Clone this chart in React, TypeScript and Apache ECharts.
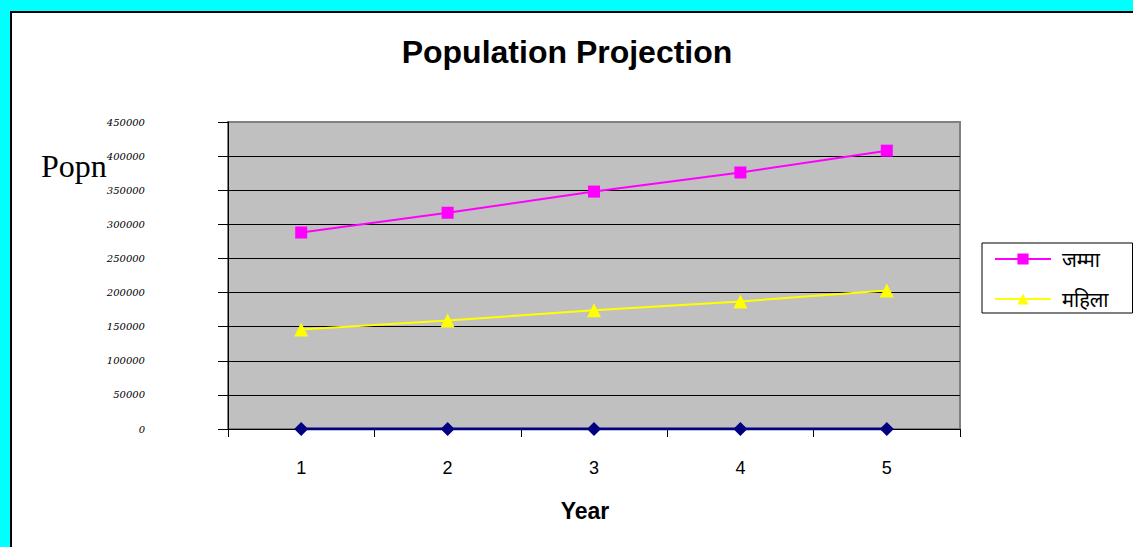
import React, { useEffect, useRef } from "react";
import * as echarts from "echarts";

const years = ["1", "2", "3", "4", "5"];
const totalName = "जम्मा";
const femaleName = "महिला";
const totalValues = [288000, 317000, 348000, 376000, 408000];
const femaleValues = [146000, 159000, 174000, 187000, 203000];
const baseValues = [0, 0, 0, 0, 0];
const yTicks = { min: 0, max: 450000, interval: 50000 };

export default function App() {
  const ref = useRef<HTMLDivElement>(null);
  useEffect(() => {
    const chart = echarts.init(ref.current!, null, { renderer: "svg" });
    const nLines = Math.round((yTicks.max - yTicks.min) / yTicks.interval) + 1;
    const splitColors = Array.from({ length: nLines }, (_, i) =>
      i === nLines - 1 ? "#808080" : "#000000"
    );
    chart.setOption({
      animation: false,
      backgroundColor: "#00FFFF",
      graphic: [
        {
          type: "rect",
          z: -10,
          shape: { x: 11, y: 12, width: 1140, height: 560 },
          style: { fill: "#FFFFFF", stroke: "#000000", lineWidth: 2 },
        },
        {
          type: "text",
          x: 567,
          y: 52,
          style: {
            text: "Population Projection",
            font: "bold 32px 'Liberation Sans', Arial, sans-serif",
            fill: "#000",
            textAlign: "center",
            textVerticalAlign: "middle",
          },
        },
        {
          type: "text",
          x: 41,
          y: 166,
          style: {
            text: "Popn",
            font: "32px 'Liberation Serif', 'Times New Roman', serif",
            fill: "#000",
            textAlign: "left",
            textVerticalAlign: "middle",
          },
        },
        {
          type: "text",
          x: 585,
          y: 511,
          style: {
            text: "Year",
            font: "bold 23px 'Liberation Sans', Arial, sans-serif",
            fill: "#000",
            textAlign: "center",
            textVerticalAlign: "middle",
          },
        },
      ],
      grid: {
        left: 228,
        top: 122,
        right: 173,
        bottom: 118,
        show: true,
        backgroundColor: "#C0C0C0",
        borderColor: "#808080",
        borderWidth: 2,
      },
      legend: {
        orient: "vertical",
        left: 982,
        top: 243,
        padding: [6, 24, 4, 12],
        backgroundColor: "#FFFFFF",
        borderColor: "#000000",
        borderWidth: 1,
        borderRadius: 0,
        itemWidth: 56,
        itemHeight: 14,
        itemGap: 20,
        data: [totalName, femaleName],
        textStyle: {
          fontSize: 20,
          color: "#000",
          padding: [0, 0, 0, 6],
          fontFamily: "'Noto Sans', 'DejaVu Sans', sans-serif",
        },
      },
      xAxis: {
        type: "category",
        data: years,
        boundaryGap: true,
        axisLine: { lineStyle: { color: "#000", width: 1 } },
        axisTick: { show: true, length: 8, lineStyle: { color: "#000" } },
        axisLabel: {
          margin: 30,
          fontSize: 18,
          color: "#000",
          fontFamily: "'Liberation Sans', Arial, sans-serif",
        },
        splitLine: { show: false },
      },
      yAxis: {
        type: "value",
        min: yTicks.min,
        max: yTicks.max,
        interval: yTicks.interval,
        axisLine: { show: true, lineStyle: { color: "#000", width: 1 } },
        axisTick: { show: true, length: 10, lineStyle: { color: "#000" } },
        axisLabel: {
          margin: 83,
          fontSize: 10,
          fontStyle: "italic",
          color: "#000",
          fontFamily: "'DejaVu Serif', 'Liberation Serif', serif",
          formatter: (v: number) => String(v),
        },
        splitLine: { show: true, lineStyle: { color: splitColors, width: 1 } },
      },
      series: [
        {
          name: totalName,
          type: "line",
          data: totalValues,
          symbol: "rect",
          symbolSize: 12,
          lineStyle: { color: "#FF00FF", width: 2 },
          itemStyle: { color: "#FF00FF" },
          z: 3,
        },
        {
          name: femaleName,
          type: "line",
          data: femaleValues,
          symbol: "triangle",
          symbolSize: 14,
          lineStyle: { color: "#FFFF00", width: 2 },
          itemStyle: { color: "#FFFF00" },
          z: 3,
        },
        {
          name: "base",
          type: "line",
          data: baseValues,
          symbol: "diamond",
          symbolSize: 14,
          lineStyle: { color: "#000080", width: 3 },
          itemStyle: { color: "#000080" },
          z: 4,
        },
      ],
    });
    return () => chart.dispose();
  }, []);
  return (
    <div
      ref={ref}
      style={{ position: "fixed", left: 0, top: 0, width: 1133, height: 547 }}
    />
  );
}
